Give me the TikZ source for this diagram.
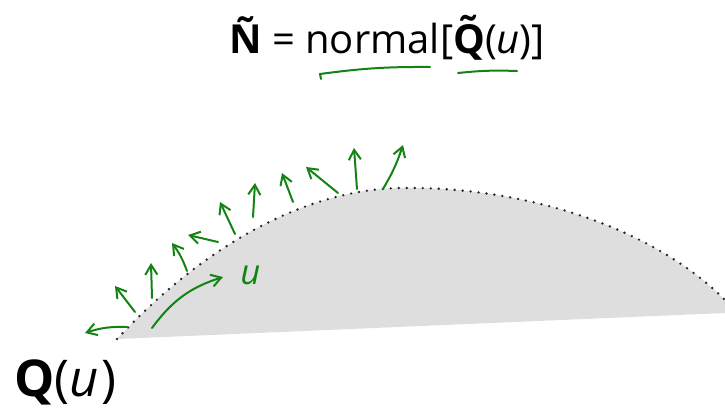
\documentclass[tikz,border=0pt]{standalone}
\usepackage{fontspec}
\setmainfont{Open Sans}
\usetikzlibrary{arrows.meta}
\definecolor{InkGreen}{HTML}{138313}
\definecolor{SurfGray}{HTML}{DEDEDE}
% tilde placed over a capital
\newcommand\captilde[1]{\ooalign{#1\cr\hidewidth\raisebox{0.2em}{\char"02DC}\hidewidth\cr}}

\begin{document}
\begin{tikzpicture}[x=0.75pt,y=-0.75pt,
    ink/.style={
      draw=InkGreen,
      line width=1.5pt,
      line cap=round,
      line join=round
    },
    normalarrow/.style={
      ink,
      -{Straight Barb[length=2.6mm,width=3.2mm]}
    },
    surfedge/.style={
      draw=black!85,
      line width=2pt,
      line cap=round,
      dash pattern=on 0pt off 6pt
    }]

    \useasboundingbox (0,0) rectangle (725,411);

    % Surface patch (grey) with dotted upper boundary
    \coordinate (qstart) at (117,339);
    \coordinate (qpeak) at (400,188);
    \coordinate (qend) at (725,300);
    \coordinate (qfoot) at (725,313);
    \fill[SurfGray] (qstart) .. controls (200,250) and (300,190) .. (qpeak)
      .. controls (520,186) and (650,225) .. (qend) -- (qfoot) -- cycle;
    \draw[surfedge] (qstart) .. controls (200,250) and (300,190) .. (qpeak)
      .. controls (520,186) and (650,225) .. (qend);

    % Formula and curve label
    \node[anchor=base west, inner sep=0pt, font=\fontsize{30}{36}\selectfont] (formula) at (229,53)
      {{\bfseries Ñ} = normal[{\bfseries \captilde{Q}}({\itshape u})]};
    \node[anchor=base west, inner sep=0pt, font=\fontsize{38}{44}\selectfont] (qlabel) at (14,396)
      {{\bfseries Q}({\itshape u}\kern2pt)};

    % Hand-drawn underlines
    \draw[ink] (321,79) -- (320,74) to[bend left=4] (430,67);
    \draw[ink] (458,73) to[bend left=4] (517,71);

    % Normals sketched along the boundary
    \draw[normalarrow] (127,327) to[bend right=10] (85,333);
    \draw[normalarrow] (135,312) -- (115,286);
    \draw[normalarrow] (152,298) -- (151,263);
    \draw[normalarrow] (187,271) to[bend right=8] (172,243);
    \draw[normalarrow] (218,242) -- (188,235);
    \draw[normalarrow] (235,234) -- (220,202);
    \draw[normalarrow] (253,217) -- (255,183);
    \draw[normalarrow] (293,202) -- (282,173);
    \draw[normalarrow] (338,193) -- (306,167);
    \draw[normalarrow] (357,189) -- (354,148);
    \draw[normalarrow] (383,189) to[bend right=6] (403,145);

    % Parameter direction u
    \draw[normalarrow] (152,328) to[bend left=18] (223,277);
    \node[anchor=base west, inner sep=0pt, text=InkGreen, font=\fontsize{26}{30}\itshape] (ulabel) at (240,284) {u};
  \end{tikzpicture}
\end{document}
